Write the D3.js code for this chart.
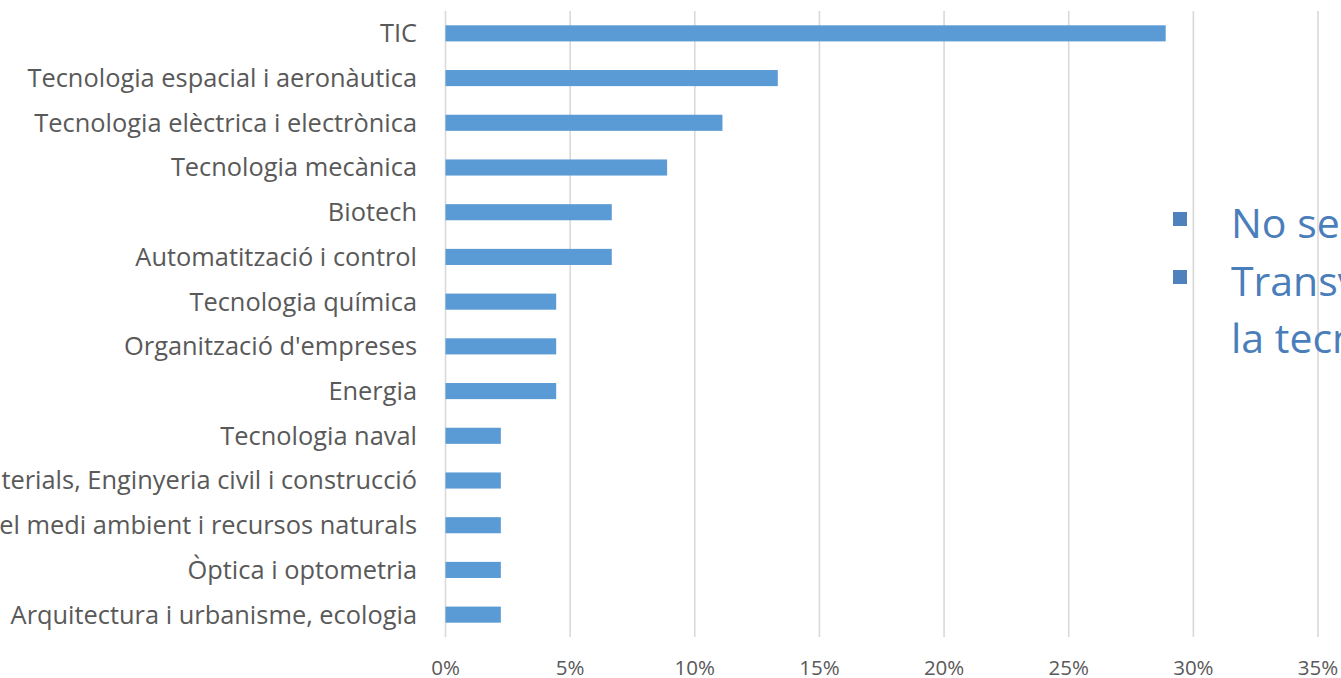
<!DOCTYPE html>
<html>
<head>
<meta charset="utf-8">
<script src="https://cdn.jsdelivr.net/npm/d3@7"></script>
<style>
  html, body { margin: 0; padding: 0; background: #fff; overflow: hidden; }
  svg { display: block; }
</style>
</head>
<body>
<svg id="chart" width="1341" height="678"></svg>
<script>
// categories, top to bottom
var categories = [
  "TIC",
  "Tecnologia espacial i aeronàutica",
  "Tecnologia elèctrica i electrònica",
  "Tecnologia mecànica",
  "Biotech",
  "Automatització i control",
  "Tecnologia química",
  "Organització d'empreses",
  "Energia",
  "Tecnologia naval",
  "Materials, Enginyeria civil i construcció",
  "Tecnologia del medi ambient i recursos naturals",
  "Òptica i optometria",
  "Arquitectura i urbanisme, ecologia"
];
// share of projects (fraction)
var values = [0.2889, 0.1333, 0.1111, 0.0889, 0.0667, 0.0667, 0.0444, 0.0444, 0.0444, 0.0222, 0.0222, 0.0222, 0.0222, 0.0222];
var xTicks = [0, 0.05, 0.10, 0.15, 0.20, 0.25, 0.30, 0.35];
var legendLines = [["No sectorial"], ["Transversal a", "la tecnologia"]];

var svg = d3.select("#chart");
var textColor = "#595959";
var barColor = "#5B9BD5";

var x = d3.scaleLinear().domain([0, 0.35]).range([445.5, 1318]);
var y = d3.scaleBand().domain(categories).range([11, 637]).paddingInner(0.64).paddingOuter(0.32);

// gridlines
svg.append("g").selectAll("line").data(xTicks).enter().append("line")
  .attr("x1", function(d) { return x(d); })
  .attr("x2", function(d) { return x(d); })
  .attr("y1", 11).attr("y2", 637)
  .style("stroke", "#D9D9D9").style("stroke-width", 1.6);

// bars
svg.append("g").selectAll("rect").data(values).enter().append("rect")
  .attr("x", x(0))
  .attr("y", function(d, i) { return y(categories[i]); })
  .attr("width", function(d) { return x(d) - x(0); })
  .attr("height", y.bandwidth())
  .style("fill", barColor);

// category labels (long ones run off the left edge, as in the original)
svg.append("g").selectAll("text").data(categories).enter().append("text")
  .attr("x", 417)
  .attr("y", function(d) { return y(d) + y.bandwidth() / 2; })
  .attr("dy", "0.35em")
  .attr("text-anchor", "end")
  .style("font-family", "'Open Sans', sans-serif")
  .style("font-size", "25.4px")
  .style("fill", textColor)
  .text(function(d) { return d; });

// x axis tick labels
svg.append("g").selectAll("text").data(xTicks).enter().append("text")
  .attr("x", function(d) { return x(d); })
  .attr("y", 675)
  .attr("text-anchor", "middle")
  .style("font-family", "'Open Sans', sans-serif")
  .style("font-size", "20.5px")
  .style("fill", textColor)
  .text(d3.format(".0%"));

// legend (cut off at right edge)
var legend = svg.append("g");
var rowY = [238, 296];
legendLines.forEach(function(lines, i) {
  legend.append("rect")
    .attr("x", 1173).attr("y", rowY[i] - 26)
    .attr("width", 14).attr("height", 14)
    .style("fill", "#4F81BD");
  lines.forEach(function(t, j) {
    legend.append("text")
      .attr("x", 1231).attr("y", rowY[i] + j * 57)
      .style("font-family", "'Open Sans', sans-serif")
      .style("font-size", "41px")
      .style("fill", "#4A7EBB")
      .text(t);
  });
});
</script>
</body>
</html>
